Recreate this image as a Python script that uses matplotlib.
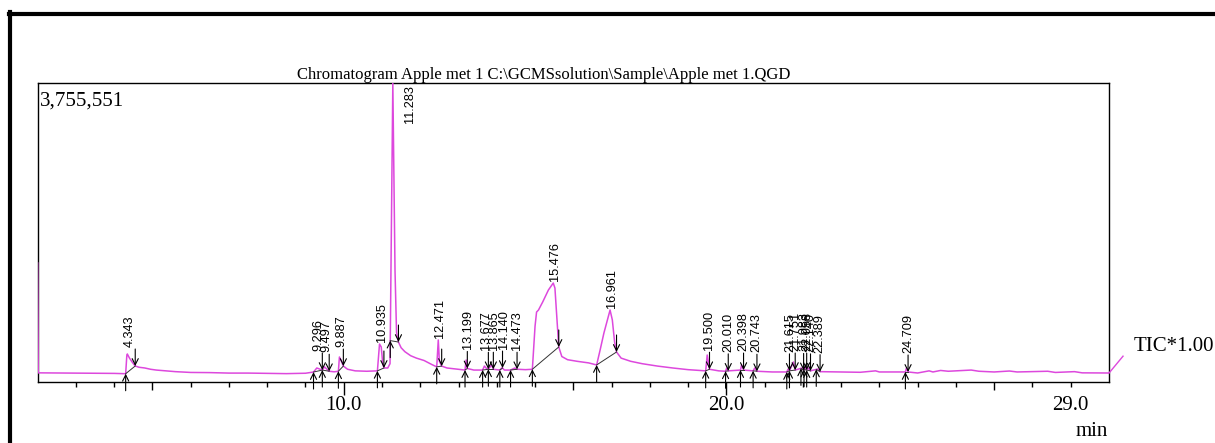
import numpy as np
import matplotlib
matplotlib.use("Agg")
import matplotlib.pyplot as plt
from matplotlib.lines import Line2D

# ---- data (time in min, intensity in counts) ----
time = [2.00, 2.015, 2.5, 3.0, 3.5, 4.0, 4.30, 4.33, 4.343, 4.40, 4.47, 4.55, 4.65, 4.8,
        4.95, 5.1, 5.3, 5.6, 6.0, 6.5, 7.0, 7.5, 8.0, 8.5, 9.0, 9.21, 9.296, 9.38, 9.44,
        9.497, 9.56, 9.62, 9.75, 9.86, 9.887, 9.93, 9.99, 10.1, 10.3, 10.6, 10.88, 10.935,
        10.98, 11.02, 11.05, 11.15, 11.21, 11.283, 11.34, 11.38, 11.43, 11.5, 11.6, 11.75,
        11.9, 12.1, 12.3, 12.43, 12.471, 12.50, 12.56, 12.7, 13.0, 13.17, 13.199, 13.23,
        13.4, 13.63, 13.677, 13.73, 13.78, 13.865, 13.91, 14.08, 14.14, 14.2, 14.36,
        14.473, 14.53, 14.75, 14.93, 15.0, 15.04, 15.09, 15.2, 15.35, 15.476, 15.52,
        15.57, 15.62, 15.7, 15.85, 16.1, 16.4, 16.61, 16.7, 16.8, 16.961, 17.02, 17.08,
        17.13, 17.25, 17.5, 17.8, 18.2, 18.6, 19.0, 19.46, 19.500, 19.56, 19.8, 19.98,
        20.010, 20.05, 20.37, 20.398, 20.45, 20.70, 20.743, 20.8, 21.2, 21.58, 21.615,
        21.65, 21.751, 21.8, 21.983, 22.02, 22.058, 22.1, 22.140, 22.2, 22.389, 22.45,
        23.0, 23.5, 23.9, 24.0, 24.68, 24.709, 24.75, 25.0, 25.3, 25.4, 25.6, 25.8, 26.4,
        26.6, 27.0, 27.4, 27.6, 28.4, 28.6, 29.1, 29.3, 30.0]
intensity = [1495000, 115000, 113000, 112000, 110000, 108000, 104000, 330000, 352000,
             300000, 250000, 201000, 185000, 176000, 160000, 150000, 142000, 130000,
             120000, 118000, 112000, 112000, 108000, 105000, 110000, 125000, 176000,
             160000, 150000, 190000, 160000, 135000, 128000, 135000, 314000, 270000,
             200000, 160000, 140000, 135000, 140000, 477000, 440000, 230000, 176000,
             176000, 230000, 3755551, 1400000, 620000, 502000, 430000, 380000, 330000,
             300000, 270000, 220000, 190000, 528000, 260000, 200000, 176000, 160000,
             150000, 276000, 170000, 150000, 150000, 201000, 170000, 160000, 214000,
             160000, 150000, 180000, 150000, 150000, 176000, 160000, 155000, 160000,
             700000, 879000, 904000, 1005000, 1156000, 1243000, 1180000, 800000, 440000,
             320000, 280000, 260000, 240000, 214000, 400000, 615000, 904000, 780000,
             500000, 377000, 300000, 260000, 230000, 200000, 176000, 155000, 140000,
             339000, 160000, 140000, 135000, 176000, 140000, 150000, 214000, 150000,
             140000, 176000, 135000, 126000, 126000, 163000, 140000, 251000, 150000,
             176000, 145000, 188000, 150000, 176000, 140000, 163000, 130000, 126000,
             122000, 140000, 126000, 126000, 176000, 126000, 113000, 140000, 126000,
             145000, 135000, 150000, 135000, 126000, 138000, 126000, 135000, 120000,
             130000, 115000, 113000]

peak_labels = ["4.343", "9.296", "9.497", "9.887", "10.935", "11.283", "12.471", "13.199",
               "13.677", "13.865", "14.140", "14.473", "15.476", "16.961", "19.500",
               "20.010", "20.398", "20.743", "21.615", "21.751", "21.983", "22.058",
               "22.140", "22.389", "24.709"]
peak_rt = [4.343, 9.296, 9.497, 9.887, 10.935, 11.283, 12.471, 13.199, 13.677, 13.865,
           14.140, 14.473, 15.476, 16.961, 19.500, 20.010, 20.398, 20.743, 21.615, 21.751,
           21.983, 22.058, 22.140, 22.389, 24.709]
peak_start = [4.30, 9.21, 9.44, 9.86, 10.88, 11.216, 12.43, 13.17, 13.63, 13.78, 14.08,
              14.36, 14.93, 16.61, 19.46, 19.98, 20.37, 20.70, 21.58, 21.65, 21.95, 22.03,
              22.10, 22.35, 24.68]
peak_end = [4.55, 9.44, 9.62, 9.99, 11.05, 11.43, 12.56, 13.23, 13.78, 13.91, 14.15, 14.53,
            15.62, 17.13, 19.56, 20.05, 20.45, 20.80, 21.65, 21.80, 22.02, 22.10, 22.20,
            22.45, 24.75]

x_ticks = [10, 20, 29]
x_ticklabels = ["10.0", "20.0", "29.0"]
y_max = 3755551

SERIF = ["Liberation Serif", "DejaVu Serif"]
SANS = ["Liberation Sans", "DejaVu Sans"]
TRACE = "#dd48dd"

fig = plt.figure(figsize=(12.15, 4.43), dpi=100)
ax = fig.add_axes([0.031, 0.1377, 0.8817, 0.6749])
ax.plot(time, intensity, color=TRACE, lw=1.1, zorder=3)
ax.set_xlim(2.0, 30.0)
ax.set_ylim(0, y_max)
ax.set_yticks([])
for sp in ax.spines.values():
    sp.set_linewidth(1.0)
    sp.set_color("black")

# axis ticks
ax.set_xticks(x_ticks)
ax.set_xticklabels(x_ticklabels, fontsize=15, family=SERIF)
ax.set_xticks(list(range(3, 30)), minor=True)
ax.tick_params(axis="x", which="major", length=9.4, width=1, direction="out", pad=0.5)
ax.tick_params(axis="x", which="minor", length=3.6, width=1, direction="out")
for t, tk in zip(x_ticks, ax.xaxis.get_major_ticks()):
    if t == 29:
        tk.tick1line.set_markersize(3.6)
for t, tk in zip(range(3, 30), ax.xaxis.get_minor_ticks()):
    if t in (5, 15, 25):
        tk.tick1line.set_markersize(5.8)

# peak markers
ax_h_px = 0.6749 * 443
L = 17 * y_max / ax_h_px
for lab, rt, s, e in zip(peak_labels, peak_rt, peak_start, peak_end):
    ss = np.interp(s, time, intensity)
    se = np.interp(e, time, intensity)
    apex = np.interp(rt, time, intensity)
    ax.plot([s, e], [ss, se], color="#333333", lw=0.7, zorder=4)
    ax.annotate("", xy=(s, ss), xytext=(s, ss - L), annotation_clip=False,
                arrowprops=dict(arrowstyle="->", color="black", lw=0.8,
                                shrinkA=0, shrinkB=0, mutation_scale=11), zorder=5)
    ax.annotate("", xy=(e, se), xytext=(e, se + L), annotation_clip=False,
                arrowprops=dict(arrowstyle="->", color="black", lw=0.8,
                                shrinkA=0, shrinkB=0, mutation_scale=11), zorder=5)
    if apex >= 0.95 * y_max:
        ax.annotate(lab, xy=(rt, y_max), xytext=(17, -2), textcoords="offset pixels",
                    rotation=90, ha="center", va="top", fontsize=9.2, family=SANS)
    else:
        yb = max(apex, se + L)
        ax.annotate(lab, xy=(rt, yb), xytext=(2, 2), textcoords="offset pixels",
                    rotation=90, ha="center", va="bottom", fontsize=9.2, family=SANS)

ax.text(0.002, 0.973, "3,755,551", transform=ax.transAxes, ha="left", va="top",
        fontsize=15, family=SERIF)
fig.text(0.4473, 0.8217, r"Chromatogram Apple met 1 C:\GCMSsolution\Sample\Apple met 1.QGD",
         ha="center", va="baseline", fontsize=12, family=SERIF)
fig.text(0.9333, 0.2174, "TIC*1.00", ha="left", va="center", fontsize=15, family=SERIF)
fig.text(0.9122, 0.0255, "min", ha="right", va="center", fontsize=15, family=SERIF)
fig.add_artist(Line2D([0.9128, 0.9243], [0.158, 0.196], color=TRACE, lw=1.0))

# outer frame
fig.add_artist(Line2D([0.0086, 0.0086], [0.0, 0.972], color="black", lw=3.0))
fig.add_artist(Line2D([0.0072, 1.0], [0.968, 0.968], color="black", lw=3.0))

fig.savefig("out.png", dpi=100)
